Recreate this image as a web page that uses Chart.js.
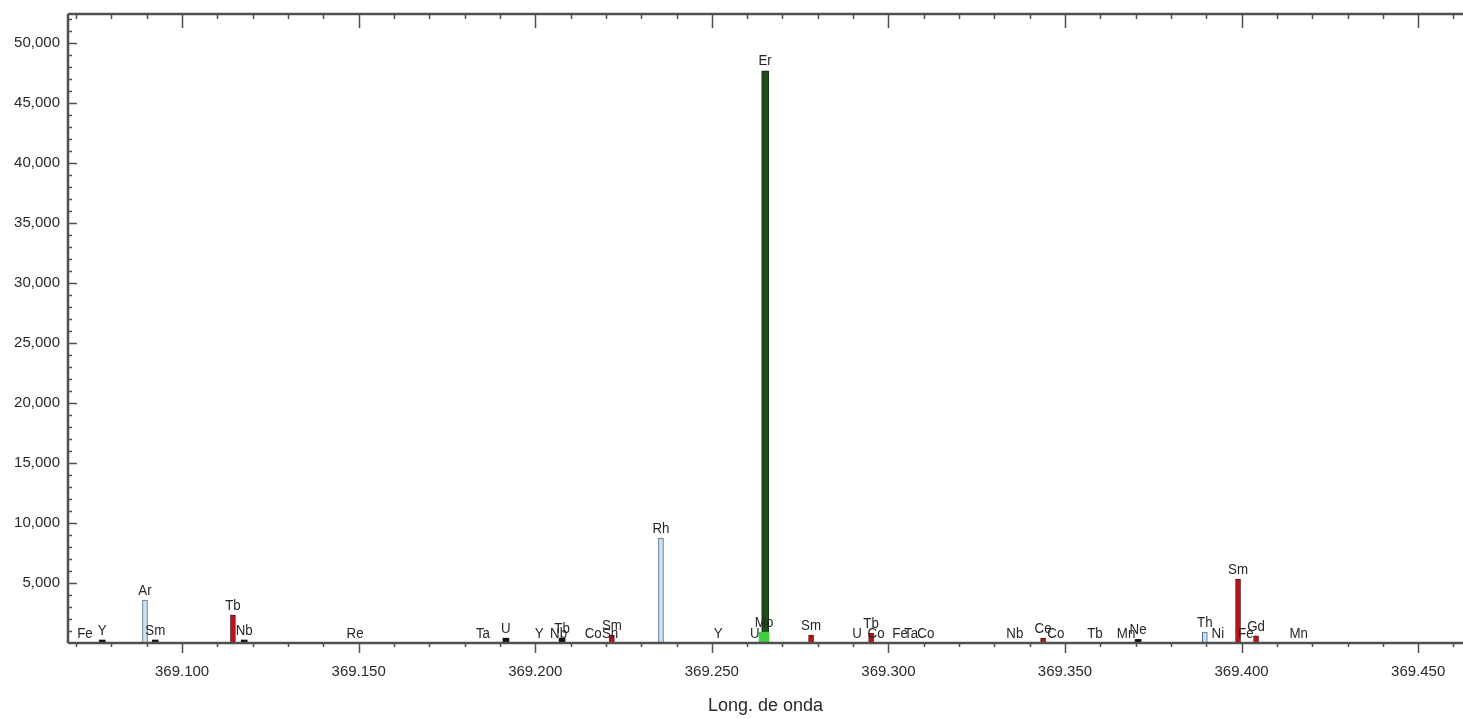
<!DOCTYPE html>
<html>
<head>
<meta charset="utf-8">
<script src="https://cdn.jsdelivr.net/npm/chart.js@4.4.1/dist/chart.umd.min.js"></script>
<style>
  html, body { margin: 0; padding: 0; background: #ffffff; }
  #wrap { width: 1463px; height: 719px; }
</style>
</head>
<body>
<div id="wrap"><canvas id="c" width="1463" height="719"></canvas></div>
<script>
// ---- Data (wavelength in nm, intensity in counts) ----
const xTicks = [369.100, 369.150, 369.200, 369.250, 369.300, 369.350, 369.400, 369.450];
const yTicks = [5000, 10000, 15000, 20000, 25000, 30000, 35000, 40000, 45000, 50000];

// Red lines
const redWavelengths = [369.1144, 369.2217, 369.2781, 369.2951, 369.3438, 369.3990, 369.4041];
const redIntensities = [2330, 650, 650, 830, 400, 5330, 600];
const redElements    = ['Tb', 'Sm', 'Sm', 'Tb', 'Ce', 'Sm', 'Gd'];

// Black lines
const blackWavelengths = [369.0774, 369.0924, 369.1176, 369.1917, 369.2076, 369.3707];
const blackIntensities = [250, 250, 250, 400, 400, 300];
const blackElements    = ['Y', 'Sm', 'Nb', 'U', 'Tb', 'Ne'];

// Light blue (outlined) lines
const blueWavelengths = [369.0895, 369.2356, 369.3896];
const blueIntensities = [3580, 8750, 900];
const blueElements    = ['Ar', 'Rh', 'Th'];

// Analyte line (dark green)
const greenWavelengths = [369.2651];
const greenIntensities = [47670];
const greenElements    = ['Er'];

// Bright green line
const limeWavelengths = [369.2648];
const limeIntensities = [900];
const limeElements    = ['Mo'];

// Lines with negligible intensity (label only)
const minorWavelengths = [369.0725, 369.1490, 369.1852, 369.2011, 369.2066, 369.2164, 369.2212,
                          369.2518, 369.2622, 369.2911, 369.2965, 369.3033, 369.3064, 369.3106,
                          369.3358, 369.3474, 369.3585, 369.3673, 369.3933, 369.4012, 369.4162];
const minorIntensities = [0, 0, 0, 0, 0, 0, 0, 0, 0, 0, 0, 0, 0, 0, 0, 0, 0, 0, 0, 0, 0];
const minorElements    = ['Fe', 'Re', 'Ta', 'Y', 'Nb', 'Co', 'Sn', 'Y', 'U', 'U', 'Co', 'Fe', 'Ta', 'Co',
                          'Nb', 'Co', 'Tb', 'Mn', 'Ni', 'Fe', 'Mn'];

const X_MIN = 369.0677, X_MAX = 369.4627;
const Y_MIN = 0, Y_MAX = 52400;

function pts(xs, ys) { return xs.map((x, i) => ({ x: x, y: ys[i] })); }

const labelPlugin = {
  id: 'lineLabels',
  afterDatasetsDraw(chart) {
    const ctx = chart.ctx;
    const base = chart.scales.y.getPixelForValue(0);
    ctx.save();
    ctx.font = '14px "Liberation Sans", Arial, sans-serif';
    ctx.fillStyle = '#262626';
    ctx.textAlign = 'center';
    ctx.textBaseline = 'bottom';
    chart.data.datasets.forEach((ds, di) => {
      const meta = chart.getDatasetMeta(di);
      meta.data.forEach((el, i) => {
        const y = Math.min(el.y, base) - 2;
        ctx.save();
        ctx.translate(el.x, y);
        ctx.scale(0.95, 1.05);
        ctx.fillText(ds.elements[i], 0, 0);
        ctx.restore();
      });
    });
    ctx.restore();
  }
};

const axesPlugin = {
  id: 'axesFrame',
  afterDraw(chart) {
    const ctx = chart.ctx;
    const xs = chart.scales.x, ys = chart.scales.y;
    const a = chart.chartArea;
    ctx.save();
    ctx.strokeStyle = '#505050';
    ctx.lineWidth = 2.5;
    ctx.beginPath();
    ctx.moveTo(a.left, a.top); ctx.lineTo(a.right, a.top);
    ctx.moveTo(a.left, a.bottom); ctx.lineTo(a.right, a.bottom);
    ctx.moveTo(a.left, a.top); ctx.lineTo(a.left, a.bottom);
    ctx.stroke();
    ctx.lineWidth = 1.5;
    ctx.beginPath();
    // x ticks every 0.01, major every 0.05
    for (let k = Math.ceil(X_MIN * 100); k <= Math.floor(X_MAX * 100); k++) {
      const px = Math.round(xs.getPixelForValue(k / 100)) + 0.5;
      const major = k % 5 === 0;
      ctx.moveTo(px, a.bottom); ctx.lineTo(px, a.bottom + (major ? 10 : 4));
      ctx.moveTo(px, a.top); ctx.lineTo(px, a.top + (major ? 14 : 5));
    }
    // y ticks every 1000, major every 5000
    for (let v = 1000; v <= Y_MAX; v += 1000) {
      const py = Math.round(ys.getPixelForValue(v)) + 0.5;
      const major = v % 5000 === 0;
      ctx.moveTo(a.left, py); ctx.lineTo(a.left + (major ? 9 : 4), py);
    }
    ctx.stroke();
    ctx.restore();
  }
};

new Chart(document.getElementById('c'), {
  type: 'bar',
  data: {
    datasets: [
      { label: 'Er', data: pts(greenWavelengths, greenIntensities), elements: greenElements,
        backgroundColor: '#1d4d1d', borderColor: '#0f2a0f', borderWidth: 1, barThickness: 7, grouped: false, order: 2 },
      { label: 'Mo', data: pts(limeWavelengths, limeIntensities), elements: limeElements,
        backgroundColor: '#3fcf3f', borderWidth: 0, barThickness: 10, grouped: false, order: 1 },
      { label: 'red', data: pts(redWavelengths, redIntensities), elements: redElements,
        backgroundColor: '#b5161b', borderColor: '#6e0d0f', borderWidth: 1, barThickness: 5, grouped: false, order: 3 },
      { label: 'black', data: pts(blackWavelengths, blackIntensities), elements: blackElements,
        backgroundColor: '#111111', borderWidth: 0, barThickness: 6, grouped: false, order: 4 },
      { label: 'blue', data: pts(blueWavelengths, blueIntensities), elements: blueElements,
        backgroundColor: '#cfe0ef', borderColor: '#4f6f8f', borderWidth: 1, barThickness: 5, grouped: false, order: 5 },
      { label: 'minor', data: pts(minorWavelengths, minorIntensities), elements: minorElements,
        backgroundColor: 'rgba(0,0,0,0)', borderWidth: 0, barThickness: 4, grouped: false, order: 6 }
    ]
  },
  options: {
    responsive: false,
    devicePixelRatio: 1,
    animation: false,
    layout: { padding: { top: 14, right: 0, left: 0, bottom: 0 } },
    plugins: { legend: { display: false }, tooltip: { enabled: false } },
    scales: {
      x: {
        type: 'linear',
        offset: false,
        min: X_MIN, max: X_MAX,
        grid: { display: false, offset: false },
        border: { display: false },
        afterBuildTicks(s) { s.ticks = xTicks.map(v => ({ value: v })); },
        afterFit(s) { s.height = 76; },
        ticks: {
          autoSkip: false, maxRotation: 0, padding: 12,
          color: '#2a2a2a',
          font: { family: '"Liberation Sans", Arial, sans-serif', size: 15 },
          callback: v => Number(v).toFixed(3)
        },
        title: {
          display: true, text: 'Long. de onda', color: '#2a2a2a',
          font: { family: '"Liberation Sans", Arial, sans-serif', size: 18 },
          padding: { top: 0, bottom: 2 }
        }
      },
      y: {
        min: Y_MIN, max: Y_MAX,
        grid: { display: false },
        border: { display: false },
        afterBuildTicks(s) { s.ticks = yTicks.map(v => ({ value: v })); },
        afterFit(s) { s.width = 68; },
        ticks: {
          padding: 0, color: '#2a2a2a',
          font: { family: '"Liberation Sans", Arial, sans-serif', size: 15 },
          callback: v => Number(v).toLocaleString('en-US')
        }
      }
    }
  },
  plugins: [labelPlugin, axesPlugin]
});
</script>
</body>
</html>
